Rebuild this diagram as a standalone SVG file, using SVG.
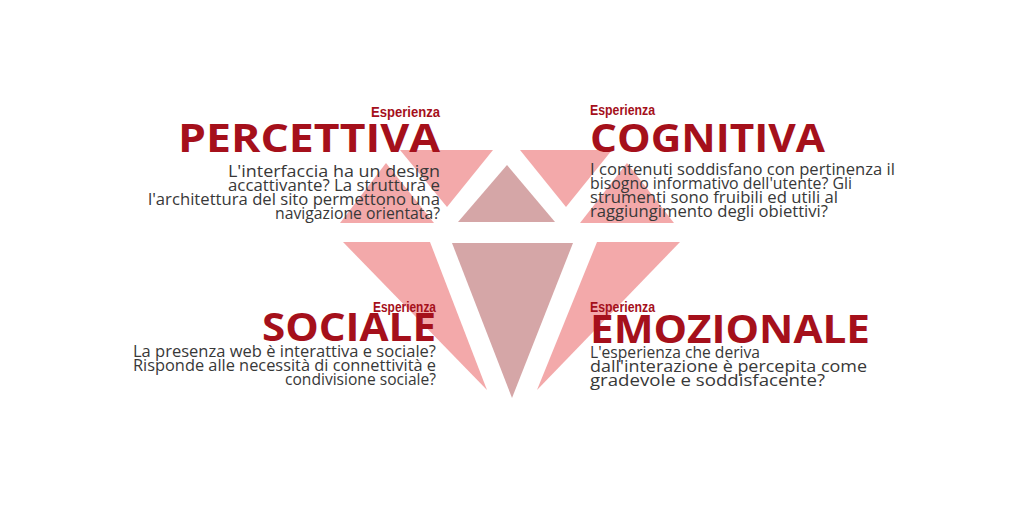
<svg xmlns="http://www.w3.org/2000/svg" width="1024" height="512" viewBox="0 0 1024 512">
<style>
.lt{fill:#f3a9aa}
.dk{fill:#d5a6a7}
.esp{font-family:"Liberation Sans Narrow","Liberation Sans",sans-serif;font-weight:700;font-size:15px;fill:#a5101b}
.ttl{font-family:"Open Sans","Liberation Sans",sans-serif;font-weight:700;font-size:40px;fill:#a5101b}
.body{font-family:"Open Sans","Liberation Sans",sans-serif;font-size:15.5px;fill:#383838}
.r{text-anchor:end}
</style>
<rect width="1024" height="512" fill="#ffffff"/>
<g id="diamond">
<polygon class="lt" points="400,150 493,150 447,207"/>
<polygon class="lt" points="520,150 612,150 566,207"/>
<polygon class="dk" points="507,165 458,222 555,222"/>
<polygon class="lt" points="386,163 434,223 340,223"/>
<polygon class="lt" points="627,163 580,223 674,223"/>
<polygon class="lt" points="343,242 430,242 487,390"/>
<polygon class="dk" points="452,243 573,243 512,398"/>
<polygon class="lt" points="597,242 680,242 537,390"/>
</g>
<g id="percettiva">
<text class="esp r" x="440" y="117" textLength="69" lengthAdjust="spacingAndGlyphs">Esperienza</text>
<text class="ttl r" x="440" y="152" textLength="262" lengthAdjust="spacingAndGlyphs">PERCETTIVA</text>
<text class="body r" x="440" y="177" textLength="212" lengthAdjust="spacingAndGlyphs">L'interfaccia ha un design</text>
<text class="body r" x="440" y="191" textLength="212" lengthAdjust="spacingAndGlyphs">accattivante? La struttura e</text>
<text class="body r" x="440" y="205" textLength="292" lengthAdjust="spacingAndGlyphs">l'architettura del sito permettono una</text>
<text class="body r" x="440" y="219" textLength="165" lengthAdjust="spacingAndGlyphs">navigazione orientata?</text>
</g>
<g id="cognitiva">
<text class="esp" x="590" y="115" textLength="65" lengthAdjust="spacingAndGlyphs">Esperienza</text>
<text class="ttl" x="590" y="152" textLength="235" lengthAdjust="spacingAndGlyphs">COGNITIVA</text>
<text class="body" x="590" y="175" textLength="305" lengthAdjust="spacingAndGlyphs">I contenuti soddisfano con pertinenza il</text>
<text class="body" x="590" y="189" textLength="262" lengthAdjust="spacingAndGlyphs">bisogno informativo dell'utente? Gli</text>
<text class="body" x="590" y="203" textLength="248" lengthAdjust="spacingAndGlyphs">strumenti sono fruibili ed utili al</text>
<text class="body" x="590" y="217" textLength="238" lengthAdjust="spacingAndGlyphs">raggiungimento degli obiettivi?</text>
</g>
<g id="sociale">
<text class="esp r" x="436" y="312" textLength="63" lengthAdjust="spacingAndGlyphs">Esperienza</text>
<text class="ttl r" x="436" y="341" textLength="174" lengthAdjust="spacingAndGlyphs">SOCIALE</text>
<text class="body r" x="436" y="357" textLength="303" lengthAdjust="spacingAndGlyphs">La presenza web è interattiva e sociale?</text>
<text class="body r" x="436" y="371" textLength="303" lengthAdjust="spacingAndGlyphs">Risponde alle necessità di connettività e</text>
<text class="body r" x="436" y="385" textLength="151" lengthAdjust="spacingAndGlyphs">condivisione sociale?</text>
</g>
<g id="emozionale">
<text class="esp" x="590" y="312" textLength="65" lengthAdjust="spacingAndGlyphs">Esperienza</text>
<text class="ttl" x="590" y="343" textLength="280" lengthAdjust="spacingAndGlyphs">EMOZIONALE</text>
<text class="body" x="590" y="358" textLength="170" lengthAdjust="spacingAndGlyphs">L'esperienza che deriva</text>
<text class="body" x="590" y="372" textLength="277" lengthAdjust="spacingAndGlyphs">dall'interazione è percepita come</text>
<text class="body" x="590" y="386" textLength="235" lengthAdjust="spacingAndGlyphs">gradevole e soddisfacente?</text>
</g>
<g id="connectors"/>
</svg>
